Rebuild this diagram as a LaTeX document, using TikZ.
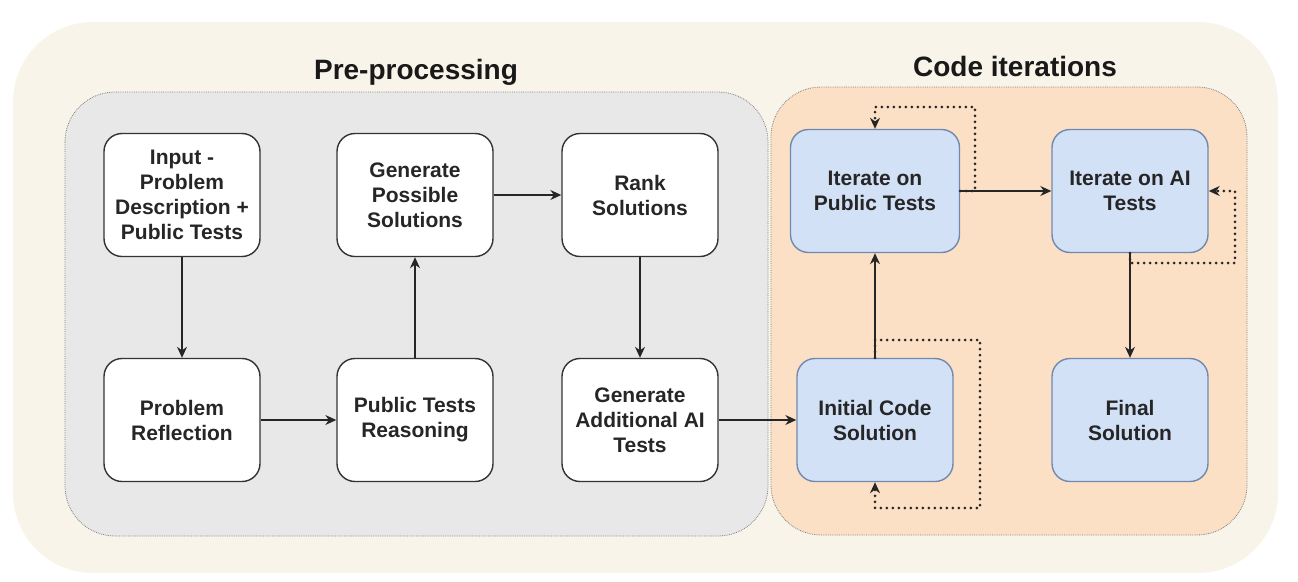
\documentclass[tikz,border=0pt]{standalone}
\usepackage{fontspec}
\setmainfont{Liberation Sans}
\usetikzlibrary{arrows.meta}
\definecolor{cream}{HTML}{F8F4E9}
\definecolor{panelgray}{HTML}{E8E8E8}
\definecolor{panelorange}{HTML}{FCE0C5}
\definecolor{boxblue}{HTML}{D3E1F7}
\definecolor{boxedge}{HTML}{7189AE}
\begin{document}
\begin{tikzpicture}[x=1pt,y=-1pt,
  box/.style={rectangle,rounded corners=18pt,draw=black!80,line width=1.4pt,fill=white,
    minimum width=156pt,minimum height=123pt,inner sep=0pt,align=center,
    font=\fontsize{21}{25}\selectfont\bfseries,text=black!85},
  bluebox/.style={box,fill=boxblue,draw=boxedge},
  panel/.style={rounded corners=50pt,draw=gray,densely dotted,line width=0.8pt},
  flow/.style={-{Stealth[length=11pt,width=10pt]},line width=1.3pt,draw=black!85},
  retry/.style={flow,line cap=round,dash pattern=on 0pt off 6pt,line width=3pt,
    -{Stealth[length=11pt,width=10pt,line cap=butt]}},
  title/.style={font=\fontsize{28}{32}\selectfont\bfseries,text=black!90}]
\useasboundingbox (0,0) rectangle (1298,581);
\fill[cream,rounded corners=80pt] (13,22) rectangle (1278,573);
\path[panel,fill=panelgray] (65,92) rectangle (768,536);
\path[panel,fill=panelorange] (771,87) rectangle (1247,535);

\path (416,72) node[title] (pretitle) {Pre-processing};
\path (1015,66) node[title] (codetitle) {Code iterations};

% pre-processing
\path (182,195) node[box] (input) {Input -\\Problem\\Description +\\Public Tests};
\path (182,420) node[box] (reflect) {Problem\\Reflection};
\path (415,195) node[box] (possible) {Generate\\Possible\\Solutions};
\path (415,420) node[box] (reason) {Public Tests\\Reasoning};
\path (640,195) node[box] (rank) {Rank\\Solutions};
\path (640,420) node[box] (aitests) {Generate\\Additional AI\\Tests};

\draw[flow] (input) -- (reflect);
\draw[flow] (reflect) -- (reason);
\draw[flow] (reason) -- (possible);
\draw[flow] (possible) -- (rank);
\draw[flow] (rank) -- (aitests);

% code iterations
\path (875,191) node[bluebox,minimum width=169pt] (itpub) {Iterate on\\Public Tests};
\path (1130,191) node[bluebox] (itai) {Iterate on AI\\Tests};
\path (875,420) node[bluebox] (init) {Initial Code\\Solution};
\path (1130,420) node[bluebox] (final) {Final\\Solution};

\draw[flow] (aitests) -- (init);
\draw[flow] (init) -- (itpub);
\draw[flow] (itpub) -- (itai);
\draw[flow] (itai) -- (final);

\draw[retry] (itpub.east) -| (975,107) -| (itpub.north);
\draw[retry] (itai.south) |- (1235,263) |- (itai.east);
\draw[retry] (init.north) |- (980,340) |- (875,508) -- (init.south);
\end{tikzpicture}
\end{document}
